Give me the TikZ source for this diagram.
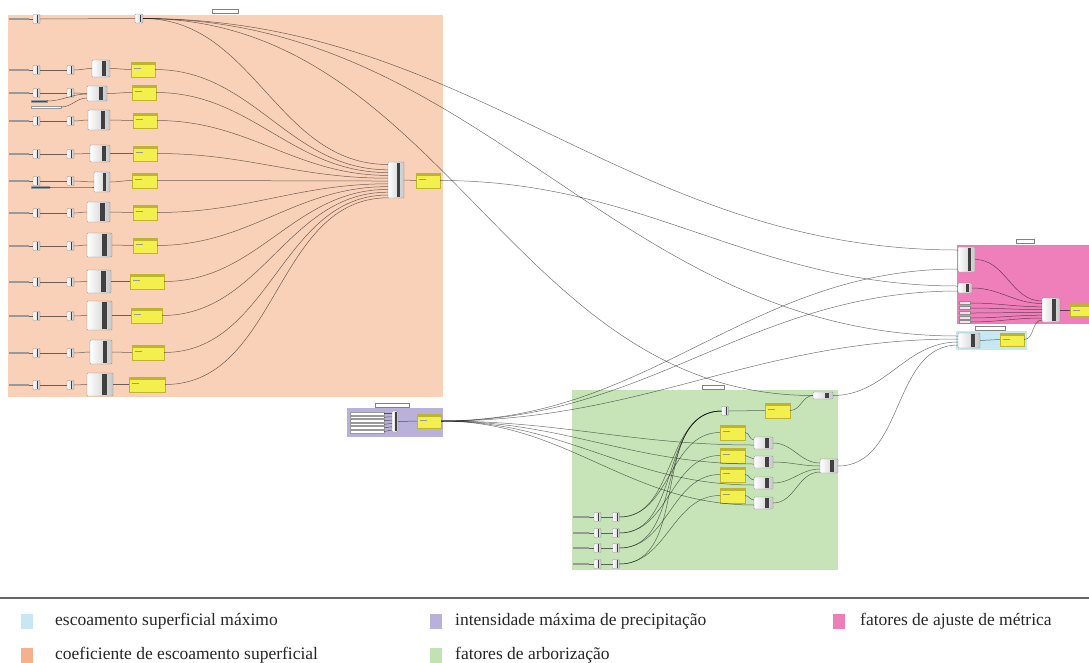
\documentclass[tikz,border=0pt]{standalone}
\usepackage{fontspec}
\setmainfont{Liberation Serif}
\usetikzlibrary{calc}
\definecolor{orgbg}{HTML}{F9D0B8}
\definecolor{pinkbg}{HTML}{EF7FBA}
\definecolor{bluebg}{HTML}{C6E8F2}
\definecolor{purpbg}{HTML}{BAB1DB}
\definecolor{greenbg}{HTML}{C6E4B8}
\definecolor{lgorange}{HTML}{F6B08C}
\definecolor{lgblue}{HTML}{C8E7F2}
\definecolor{lgpurple}{HTML}{B9B1D9}
\definecolor{lgpink}{HTML}{EE7EB8}
\definecolor{lggreen}{HTML}{C3E2B3}
\definecolor{panelyel}{HTML}{F3EF4C}
\definecolor{panelbar}{HTML}{BDB52E}
\tikzset{
 wire/.style={draw=black, draw opacity=0.55, line width=0.5pt},
 ghc/.style={draw=black!45, line width=0.3pt, left color=white, right color=black!22, inner sep=0pt, outer sep=0pt, rounded corners=0.8pt},
 ypanel/.style={draw=panelbar, line width=0.4pt, fill=panelyel, inner sep=0pt, outer sep=0pt},
 lbl/.style={fill=black!40, minimum height=1.6pt, inner sep=0pt, outer sep=0pt},
 gtitle/.style={draw=black!50, fill=white, line width=0.3pt, minimum width=#1, minimum height=4pt, inner sep=0pt},
 slider/.style={fill=white, draw=black!40, line width=0.3pt, minimum height=2.6pt, inner sep=0pt, outer sep=0pt},
 plbl/.style={fill=white!75!pinkbg, draw=black!45, line width=0.3pt, minimum width=11pt, minimum height=3pt, inner sep=0pt, outer sep=0pt},
 barfill/.style={fill=black!75},
 lgsq/.style={minimum width=12pt, minimum height=15pt, inner sep=0pt},
 lgtext/.style={anchor=west, inner sep=0pt, font=\fontsize{17.5}{20}\selectfont, text=black!85},
}
% component: name x0 y0 x1 y1
\newcommand\ghbox[5]{%
 \node[ghc, minimum width={((#4)-(#2))*1pt}, minimum height={((#5)-(#3))*1pt}] (#1) at ({((#2)+(#4))/2},{((#3)+(#5))/2}) {};
 \fill[barfill] ($(#1.south west)!0.58!(#1.south east)+(0,-0.8)$) rectangle ($(#1.north west)!0.78!(#1.north east)+(0,0.8)$);}
\newcommand\ghsmall[3]{\ghbox{#1}{#2-3.5}{#3-4.5}{#2+3.5}{#3+4.5}}
% yellow panel: name x0 y0 x1 y1
\newcommand\ypan[5]{%
 \node[ypanel, minimum width={((#4)-(#2))*1pt}, minimum height={((#5)-(#3))*1pt}] (#1) at ({((#2)+(#4))/2},{((#3)+(#5))/2}) {};
 \fill[panelbar] (#1.north west) rectangle ($(#1.north east)+(0,2.5)$);
 \draw[black!40, line width=0.4pt] ($(#1.north west)+(2.5,6)$) -- ++(7,0);}
% orange row: idx y gx0 gy0 gx1 gy1 yx0 yx1
\newcommand\orow[8]{%
 \node[lbl, minimum width=20pt] (l#1) at (19,#2) {};
 \ghsmall{a#1}{36.5}{#2}
 \ghsmall{b#1}{70.5}{#2}
 \ghbox{g#1}{#3}{#4}{#5}{#6}
 \ypan{p#1}{#7}{#2-8}{#8}{#2+7}
 \draw[wire] (l#1.east) -- (a#1.west);
 \draw[wire] (a#1.east) -- (b#1.west);
 \draw[wire] (b#1.east) to[out=0,in=180] (g#1.west);
 \draw[wire] (g#1.east) to[out=0,in=180] (p#1.west);
 \draw[wire] (p#1.east) to[out=0,in=180] ($(m.north west)+(0,{5+2.8*#1})$);}
\begin{document}
\begin{tikzpicture}[x=1pt,y=-1pt]
\useasboundingbox (0,0) rectangle (1089,662);
% group backgrounds
\fill[orgbg] (8,15) rectangle (443,397);
\fill[pinkbg] (957,245) rectangle (1089,324);
\fill[bluebg] (956,331) rectangle (1027,350);
\fill[purpbg] (347,408) rectangle (443,437);
\fill[greenbg] (572,390) rectangle (838,570);
\node[gtitle=26pt] (tor) at (225,11) {};
\node[gtitle=18pt] (tpk) at (1025,241) {};
\node[gtitle=30pt] (tbl) at (990,328) {};
\node[gtitle=34pt] (tpu) at (392,405) {};
\node[gtitle=22pt] (tgr) at (713,387) {};
% ---------- orange group ----------
\ghbox{m}{388}{162}{404}{198}
\ypan{pm}{416}{173}{440}{188}
\draw[wire] (m.east) -- (pm.west);
\node[lbl, minimum width=20pt] (l0) at (19,19) {};
\ghsmall{a0}{36.5}{19}
\ghbox{t0}{135}{14}{143}{23}
\draw[wire] (l0.east) -- (a0.west);
\draw[wire] (a0.east) -- (t0.west);
\draw[wire] (t0.east) to[out=0,in=180] ($(m.north west)+(0,2.5)$);
\orow{1}{70}{92}{60}{110}{77}{131}{155}
\orow{2}{93}{87}{86}{107}{101}{132}{156}
\orow{3}{121}{88}{110}{110}{130}{133}{157}
\orow{4}{154}{90}{145}{110}{162}{133}{157}
\orow{5}{181}{94}{172}{110}{192}{132}{157}
\orow{6}{213}{87}{202}{110}{222}{133}{157}
\orow{7}{246}{87}{233}{112}{257}{133}{157}
\orow{8}{282}{87}{270}{111}{293}{130}{164}
\orow{9}{316}{87}{301}{112}{330}{131}{162}
\orow{10}{353}{90}{340}{112}{364}{132}{164}
\orow{11}{385}{87}{373}{113}{396}{129}{165}
\node[slider, minimum width=16pt, fill=black!70] (sa) at (39,101) {};
\node[slider, minimum width=30pt] (sb) at (46,107) {};
\node[slider, minimum width=18pt, fill=black!70] (sc) at (40,187) {};
\draw[wire] (sa.east) to[out=0,in=180] ($(g2.north west)+(0,8)$);
\draw[wire] (sb.east) to[out=0,in=180] ($(g2.north west)+(0,12)$);
\draw[wire] (sc.east) to[out=0,in=180] ($(g5.north west)+(0,15)$);
% ---------- pink group ----------
\ghbox{k1}{958}{247}{975}{272}
\ghbox{k2}{958}{283}{972}{293}
\ghbox{km}{1042}{298}{1060}{322}
\ypan{kp}{1070}{304}{1089}{316}
\foreach \i/\yy in {1/303,2/308,3/313,4/318,5/322} {
 \node[plbl] (q\i) at (965,\yy) {};
 \draw[wire] (q\i.east) to[out=0,in=180] ($(km.north west)+(0,{6+2.8*\i})$);
}
\draw[wire] (k1.east) to[out=0,in=180] ($(km.north west)+(0,3)$);
\draw[wire] (k2.east) to[out=0,in=180] ($(km.north west)+(0,5.5)$);
\draw[wire] (km.east) -- (kp.west);
% ---------- blue group ----------
\ghbox{bc}{958}{333}{980}{348}
\ypan{bp}{1000}{333}{1024}{346}
\draw[wire] (bc.east) -- (bp.west);
\draw[wire] (bp.east) to[out=0,in=180] ($(km.north west)+(0,22)$);
% ---------- purple group ----------
\ghbox{vc}{392}{411}{398}{432}
\ypan{vp}{417}{414}{441}{428}
\foreach \i in {0,...,5} {
 \node[slider, minimum width=34pt] (s\i) at (367,{413.5+3.6*\i}) {};
 \draw[wire] (s\i.east) to[out=0,in=180] ($(vc.north west)+(0,{2.5+3.3*\i})$);
}
\draw[wire] (vc.east) -- (vp.west);
% ---------- green group ----------
\ghbox{et}{813}{392}{833}{399}
\ghsmall{es}{725}{411}
\ypan{ey}{765}{403}{790}{418}
\ypan{ep1}{720}{425}{745}{440}
\ypan{ep2}{720}{448}{745}{463}
\ypan{ep3}{720}{467}{745}{482}
\ypan{ep4}{720}{488}{745}{503}
\ghbox{eg1}{754}{437}{773}{449}
\ghbox{eg2}{754}{456}{773}{468}
\ghbox{eg3}{754}{477}{773}{489}
\ghbox{eg4}{754}{497}{773}{509}
\ghbox{em}{820}{459}{838}{473}
\foreach \j/\yy in {1/517,2/533,3/548,4/564} {
 \node[lbl, minimum width=16pt] (el\j) at (581,\yy) {};
 \ghsmall{ea\j}{597.5}{\yy}
 \ghsmall{eb\j}{616}{\yy}
 \draw[wire] (el\j.east) -- (ea\j.west);
 \draw[wire] (ea\j.east) -- (eb\j.west);
 \draw[wire] (eb\j.east) to[out=0,in=180] (es.west);
 \draw[wire] (eb\j.east) to[out=0,in=180] (ep\j.west);
 \draw[wire] (ep\j.east) to[out=0,in=180] ($(eg\j.north west)+(0,3)$);
 \draw[wire] (vp.east) to[out=0,in=180] ($(eg\j.north west)+(0,8)$);
 \draw[wire] (eg\j.east) to[out=0,in=180] ($(em.north west)+(0,{1+3*\j})$);
}
\draw[wire] (es.east) -- (ey.west);
\draw[wire] (ey.east) to[out=0,in=180] (et.west);
% ---------- long connectors ----------
\draw[wire] (t0.east) to[out=0,in=180] ($(k1.north west)+(0,3)$);
\draw[wire] (t0.east) to[out=0,in=180] ($(bc.north west)+(0,3)$);
\draw[wire] (t0.east) to[out=0,in=180] (et.west);
\draw[wire] (pm.east) to[out=0,in=180] ($(k2.north west)+(0,3)$);
\draw[wire] (vp.east) to[out=0,in=180] ($(k1.north west)+(0,22)$);
\draw[wire] (vp.east) to[out=0,in=180] ($(k2.north west)+(0,8)$);
\draw[wire] (vp.east) to[out=0,in=180] ($(bc.north west)+(0,6)$);
\draw[wire] (et.east) to[out=0,in=180] ($(bc.north west)+(0,9)$);
\draw[wire] (em.east) to[out=0,in=180] ($(bc.north west)+(0,12)$);
% ---------- legend ----------
\draw[line width=2.2pt, black!60] (0,598) -- (1089,598);
\node[lgsq, fill=lgblue] (lg1) at (27,621) {};
\node[lgtext] (lt1) at (55,621) {escoamento superficial máximo};
\node[lgsq, fill=lgpurple] (lg2) at (436,621) {};
\node[lgtext] (lt2) at (455,621) {intensidade máxima de precipitação};
\node[lgsq, fill=lgpink] (lg3) at (839,621) {};
\node[lgtext] (lt3) at (860,621) {fatores de ajuste de métrica};
\node[lgsq, fill=lgorange] (lg4) at (27,655) {};
\node[lgtext] (lt4) at (55,655) {coeficiente de escoamento superficial};
\node[lgsq, fill=lggreen] (lg5) at (436,655) {};
\node[lgtext] (lt5) at (455,655) {fatores de arborização};
\end{tikzpicture}
\end{document}
